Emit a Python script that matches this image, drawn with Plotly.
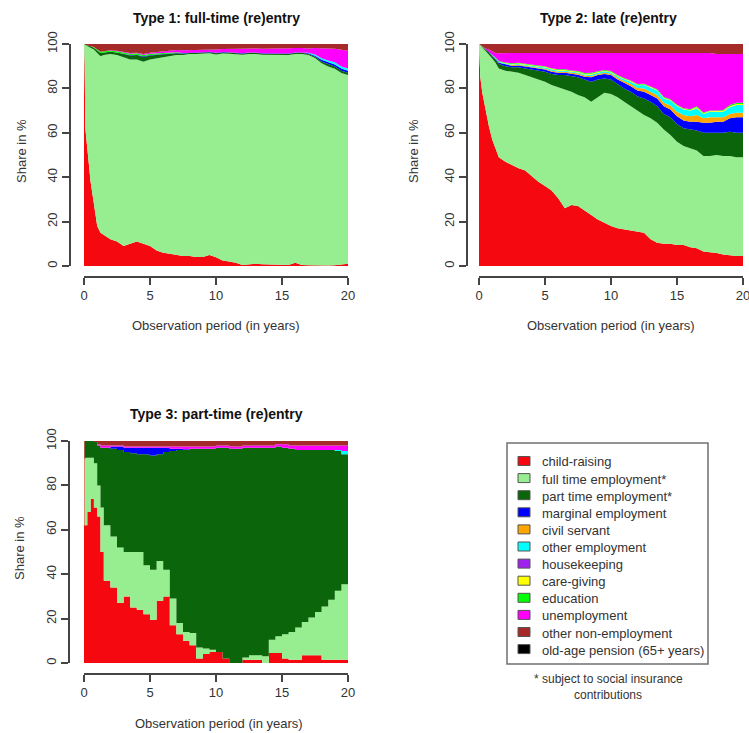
import plotly.graph_objects as go

W, H = 749, 733
FONT = "Liberation Sans, Arial, sans-serif"

years = [0, 0.05, 0.1, 0.25, 0.5, 0.75, 1, 1.25, 1.5, 2, 2.5, 3, 3.5, 4, 4.5, 5, 5.5, 6,
         6.5, 7, 7.5, 8, 8.5, 9, 9.5, 10, 10.5, 11, 11.5, 12, 12.5, 13, 13.5, 14, 14.5,
         15, 15.5, 16, 16.5, 17, 17.5, 18, 18.5, 19, 19.5, 20]

states = ["child-raising", "full time employment*", "part time employment*",
          "marginal employment", "civil servant", "other employment", "housekeeping",
          "care-giving", "education", "unemployment", "other non-employment",
          "old-age pension (65+ years)"]
colors = ["#F5080F", "#96EE90", "#0B650B", "#0000FF", "#FFA500", "#00FFFF", "#A020F0",
          "#FFFF00", "#00FF00", "#FF00FF", "#A52A2A", "#000000"]

Z = [0, 0, 0, 0, 0, 0, 0, 0, 0, 0, 0, 0, 0, 0, 0, 0, 0, 0, 0, 0, 0, 0, 0,
     0, 0, 0, 0, 0, 0, 0, 0, 0, 0, 0, 0, 0, 0, 0, 0, 0, 0, 0, 0, 0, 0, 0]

# ---- Type 1: full-time (re)entry ----
t1_child = [100, 91, 62, 52, 38, 28, 18, 15, 14, 12, 11, 9, 10, 11, 10, 9, 7, 6, 5.5, 5, 4.5, 4.5,
            4, 4, 5, 4, 2.5, 2, 1.5, 0.5, 0.8, 1, 0.8, 0.7, 0.5, 0.5, 0.5, 1.5, 0.5, 0.3, 0.2,
            0.2, 0.2, 0.3, 0.8, 1]
t1_full = [0, 9, 37.5, 47, 60.5, 69.5, 78, 79.5, 81, 83.5, 84, 85, 83, 82, 82, 84, 86.5, 88, 89, 90,
           90.5, 91, 91.5, 91.5, 91, 91.5, 93.5, 94, 94, 95, 95.2, 95, 94.7, 94.8, 95, 95, 95, 94.5,
           95.5, 95.2, 93.8, 91.3, 89.8, 88.7, 86.2, 85]
t1_part = [0, 0, 0, 0.3, 0.5, 0.8, 1, 1.5, 1.2, 1, 1.2, 1.5, 1.8, 2, 2.2, 1.8, 1.5, 1.2, 1, 0.8, 0.6,
           0.5, 0.5, 0.5, 0.5, 0.5, 0.5, 0.5, 0.5, 0.5, 0.5, 0.5, 0.5, 0.5, 0.5, 0.5, 0.5, 0.5, 0.5,
           0.5, 0.5, 0.8, 1, 1, 1, 1]
t1_marg = [0, 0, 0, 0, 0, 0, 0, 0, 0, 0, 0, 0, 0.2, 0.2, 0.3, 0.3, 0.3, 0.3, 0.2, 0.2, 0.2, 0.2, 0.2,
           0.2, 0.2, 0.2, 0.2, 0.2, 0.2, 0.2, 0.2, 0.2, 0.2, 0.2, 0.2, 0.2, 0.2, 0.2, 0.2, 0.3, 0.5,
           0.8, 1, 1, 1, 1]
t1_civil = Z
t1_other = [0, 0, 0, 0, 0, 0, 0, 0, 0, 0, 0, 0, 0, 0, 0, 0, 0, 0, 0, 0, 0, 0, 0, 0, 0, 0, 0, 0, 0,
            0, 0, 0, 0, 0, 0, 0, 0, 0, 0, 0.2, 0.5, 0.7, 0.8, 1, 1, 1]
t1_house = Z
t1_care = Z
t1_edu = [0, 0, 0, 0, 0.2, 0.3, 0.5, 0.5, 0.5, 0.5, 0.5, 0.5, 0.6, 0.6, 0.6, 0.5, 0.5, 0.5, 0.4, 0.3,
          0.2, 0, 0, 0, 0, 0, 0, 0, 0, 0, 0, 0, 0, 0, 0, 0, 0, 0, 0, 0, 0, 0, 0, 0, 0, 0]
t1_unemp = [0, 0, 0, 0, 0, 0, 0, 0, 0, 0.2, 0.3, 0.3, 0.3, 0.3, 0.4, 0.5, 0.6, 0.8, 1, 1, 1.2, 1, 1.2,
            1.3, 1, 1.5, 1.3, 1.5, 1.8, 2, 1.8, 1.8, 2, 2.2, 2.3, 2.3, 2.5, 2, 2, 2, 3, 4.5, 5.5, 6,
            7.5, 8]
t1_nonemp = [0, 0, 0.5, 0.7, 0.8, 1.4, 2.5, 3.5, 3.3, 2.8, 3, 3.7, 4.1, 3.9, 4.5, 3.9, 3.6, 3.2, 2.9,
             2.7, 2.8, 2.8, 2.6, 2.5, 2.5, 2.5, 2.3, 2.2, 2.3, 2.2, 2, 2, 2.2, 2, 2, 2, 1.8,
             1.8, 1.8, 2, 1.8, 1.9, 1.9, 2.2, 2.6, 3]
t1_pension = Z

# ---- Type 2: late (re)entry ----
t2_child = [100, 92, 85, 78, 70, 63, 57, 53, 49, 47, 45.5, 44, 43, 40.5, 38, 36, 34, 30.5, 26, 27.5,
            27, 25, 23, 21, 19.5, 18, 17, 16.5, 16, 15.5, 15, 12, 10.5, 10, 10, 9.5, 9.5, 8.5, 8,
            6.5, 6.3, 5.8, 5.2, 4.8, 4.5, 4.5]
t2_full = [0, 8, 14.5, 20.5, 27, 32.5, 36.5, 38.5, 40, 41, 42, 43, 43, 44.5, 46, 47, 47.5, 50, 53.5,
           51, 50, 51, 51, 55, 58.5, 59.5, 59, 57.5, 56, 54.5, 53, 54.5, 54, 51.5, 49, 46.5, 44.5,
           44.5, 44, 43, 43.2, 44.2, 44.3, 44.7, 44.5, 44.5]
t2_part = [0, 0, 0, 0.3, 0.5, 0.8, 1, 1.5, 2, 2, 2, 2.5, 3, 3.5, 4, 4.5, 5, 5.5, 6.5, 7, 8, 8, 9, 8,
           6.5, 6.5, 6, 6, 6.5, 6.5, 7.5, 7.5, 7.5, 7, 8, 8, 8, 8.5, 9, 10.5, 10.5, 10, 10.5, 11,
           11, 11]
t2_marg = [0, 0, 0, 0, 0.2, 0.2, 0.3, 0.4, 0.5, 0.7, 0.7, 0.8, 0.8, 0.8, 0.8, 1, 1, 1, 1, 1, 1.2, 1.3,
           2, 2, 2, 2, 2, 2.5, 2.5, 2.5, 3, 3, 3.5, 3.5, 3.5, 3.5, 3.5, 3.5, 4, 4.5, 4.5, 5, 5, 6,
           7, 7]
t2_civil = [0, 0, 0, 0, 0, 0, 0, 0, 0.2, 0.2, 0.3, 0.3, 0.3, 0.4, 0.4, 0.4, 0.5, 0.5, 0.5, 0.5, 0.5,
            0.5, 0.5, 0.5, 0.6, 0.6, 0.7, 0.8, 1, 1.2, 1.5, 1.5, 1.5, 1.5, 1.8, 2, 2.5, 2.5, 3, 2,
            2.5, 2, 2, 2, 2, 2]
t2_other = [0, 0, 0, 0, 0, 0.2, 0.2, 0.3, 0.3, 0.3, 0.3, 0.4, 0.4, 0.4, 0.5, 0.5, 0.5, 0.5, 0.5, 0.5,
            0.5, 0.5, 0.7, 0.6, 0.6, 0.6, 0.7, 0.8, 1, 1.2, 1.5, 1.8, 2, 2, 2.2, 2.5, 2.5, 2.5, 3,
            2, 2.5, 2.5, 2.5, 3, 3.5, 3.5]
t2_house = Z
t2_care = [0, 0, 0, 0, 0, 0, 0, 0, 0, 0.2, 0.2, 0.3, 0.3, 0.3, 0.3, 0.3, 0.3, 0.3, 0.3, 0.3, 0.3, 0.3,
           0.4, 0.3, 0.3, 0.3, 0.3, 0.3, 0.3, 0.3, 0.3, 0.3, 0.3, 0.3, 0.3, 0.3, 0.3, 0.3, 0.5, 0.3,
           0.3, 0.3, 0.4, 0.5, 0.5, 0.5]
t2_edu = [0, 0, 0, 0, 0, 0, 0.2, 0.2, 0.3, 0.3, 0.3, 0.3, 0.3, 0.3, 0.3, 0.3, 0.3, 0.3, 0.3, 0.3, 0.3,
          0.3, 0.4, 0.3, 0.3, 0.3, 0.3, 0.3, 0.3, 0.3, 0.3, 0.3, 0.3, 0.3, 0.3, 0.3, 0.3, 0.3, 0.5,
          0.3, 0.3, 0.3, 0.4, 0.5, 0.5, 0.5]
t2_unemp = [0, 0, 0, 0, 0.3, 0.8, 1.3, 2, 3.5, 4.3, 4.7, 4.4, 4.9, 5.3, 5.7, 6, 6.9, 7.4, 7.4, 7.9,
            8.2, 9.1, 9, 8.3, 7.7, 8.2, 10, 11.3, 12.4, 14, 13.9, 15.1, 16.4, 19.9, 20.9, 23.4,
            24.9, 25.4, 24, 26.9, 25.9, 25.4, 25.2, 23, 22, 22]
t2_nonemp = [0, 0, 0.5, 1.2, 2, 2.5, 3.5, 4.1, 4.2, 4, 4, 4, 4, 4, 4, 4, 4, 4, 4, 4, 4, 4, 4, 4, 4, 4,
             4, 4, 4, 4, 4, 4, 4, 4, 4, 4, 4, 4, 4, 4, 4, 4.5, 4.5, 4.5, 4.5, 4.5]
t2_pension = Z

# ---- Type 3: part-time (re)entry ----
t3_child = [100, 62, 62, 68, 74, 70, 66, 50, 37, 34, 27, 30, 25, 24, 22, 19.5, 28, 30, 17, 13, 10, 8,
            2, 4, 5, 5, 2, 0, 0, 1.5, 1.5, 1.5, 0, 4.5, 4.5, 2, 1.5, 1.5, 3.5, 3.5, 3.5, 1.5, 1.5,
            1.5, 1.5, 1.5]
t3_full = [0, 30, 30.5, 24.5, 18.5, 20, 14, 20, 25, 23, 25, 20, 25, 26, 22, 22.5, 18, 12, 12, 5, 4,
           5.5, 5, 2.5, 1, 0, 0, 0, 0, 1, 2, 2, 3, 6, 7.5, 11, 12.5, 14.5, 15, 17, 19.5, 24, 27,
           31, 34, 36]
t3_part = [0, 8, 7.5, 7.5, 7.5, 9.5, 18, 27, 35, 39.5, 44, 45, 44.5, 44, 50, 51.5, 48, 53, 66.5, 78,
           82, 83, 89.5, 90, 90.5, 92, 95, 96.5, 96.5, 94.5, 93.5, 93.5, 94, 86.5, 85.5, 84, 82.5,
           80, 77.5, 75.5, 73, 70.5, 67.5, 63, 58.5, 55]
t3_marg = [0, 0, 0, 0, 0, 0, 0, 0, 0, 1, 1.5, 2, 2.5, 3, 3, 3.5, 3, 2, 1, 0.5, 0.3, 0, 0, 0, 0, 0, 0,
           0, 0, 0, 0, 0, 0, 0, 0, 0, 0, 0, 0, 0, 0, 0, 0, 0, 0, 0]
t3_civil = Z
t3_other = [0, 0, 0, 0, 0, 0, 0, 0, 0, 0, 0, 0, 0, 0, 0, 0, 0, 0, 0, 0, 0, 0, 0, 0, 0, 0, 0, 0, 0, 0,
            0, 0, 0, 0, 0, 0, 0, 0, 0, 0, 0, 0, 0, 0.5, 1.5, 3]
t3_house = Z
t3_care = Z
t3_edu = Z
t3_unemp = [0, 0, 0, 0, 0, 0, 0.5, 1, 1, 0.5, 0.5, 0.5, 0.5, 0.5, 0.5, 0.5, 0.5, 0.5, 1, 1, 1.2, 1, 1,
            1, 1, 1, 1, 1, 1, 1, 1, 1, 1, 1, 1, 1.5, 1.5, 2, 2, 2, 2, 2, 2, 2, 2.5, 3]
t3_nonemp = [0, 0, 0, 0, 0, 0.5, 1.5, 2, 2, 2, 2, 2.5, 2.5, 2.5, 2.5, 2.5, 2.5, 2.5, 2.5, 2.5, 2.5,
             2.5, 2.5, 2.5, 2.5, 2, 2, 2.5, 2.5, 2, 2, 2, 2, 2, 1.5, 1.5, 2, 2, 2, 2, 2, 2, 2, 2, 2,
             1.5]
t3_pension = Z

tick_x = [0, 5, 10, 15, 20]
tick_y = [0, 20, 40, 60, 80, 100]

panels = [
    dict(title="Type 1: full-time (re)entry",
         data=[t1_child, t1_full, t1_part, t1_marg, t1_civil, t1_other, t1_house, t1_care,
               t1_edu, t1_unemp, t1_nonemp, t1_pension],
         area=(84, 348, 44, 266), yline=70, xline=277, title_xy=(217, 18),
         ytitle_xy=(21, 151), xtitle_xy=(216, 326), shape="linear"),
    dict(title="Type 2: late (re)entry",
         data=[t2_child, t2_full, t2_part, t2_marg, t2_civil, t2_other, t2_house, t2_care,
               t2_edu, t2_unemp, t2_nonemp, t2_pension],
         area=(479, 743, 44, 266), yline=467, xline=277, title_xy=(608, 18),
         ytitle_xy=(413, 151), xtitle_xy=(611, 326), shape="linear"),
    dict(title="Type 3: part-time (re)entry",
         data=[t3_child, t3_full, t3_part, t3_marg, t3_civil, t3_other, t3_house, t3_care,
               t3_edu, t3_unemp, t3_nonemp, t3_pension],
         area=(84, 348, 441, 663), yline=69, xline=674, title_xy=(217, 414),
         ytitle_xy=(19, 548), xtitle_xy=(219, 723), shape="hv"),
]


def fx(p):
    return p / W


def fy(p):
    return 1 - p / H


fig = go.Figure()
annotations = []
shapes = []
AX = "#444444"
TX = "#333333"

for i, pnl in enumerate(panels):
    n = "" if i == 0 else str(i + 1)
    for name, col, vals in zip(states, colors, pnl["data"]):
        fig.add_trace(go.Scatter(
            x=years, y=vals, xaxis="x" + n, yaxis="y" + n, name=name, mode="lines",
            line=dict(width=0, shape=pnl["shape"]), fillcolor=col, stackgroup="g" + n,
            groupnorm="percent", hoverinfo="skip", showlegend=False))
    x0, x1, y0, y1 = pnl["area"]
    common = dict(showgrid=False, zeroline=False, showline=True, linecolor=AX, linewidth=1.5,
                  ticks="outside", ticklen=7, tickwidth=1.5, tickcolor=AX, automargin=False,
                  ticklabeloverflow="allow",
                  tickfont=dict(family=FONT, size=13, color=TX), anchor="free")
    fig.update_layout(**{
        "xaxis" + n: dict(domain=[fx(x0), fx(x1)], range=[0, 20], tickvals=tick_x,
                          position=fy(pnl["xline"]), **common),
        "yaxis" + n: dict(domain=[fy(y1), fy(y0)], range=[0, 100], tickvals=tick_y,
                          tickangle=-90, position=fx(pnl["yline"]), **common),
    })
    tx, ty = pnl["title_xy"]
    annotations.append(dict(x=fx(tx), y=fy(ty), xref="paper", yref="paper", text="<b>%s</b>" % pnl["title"],
                            showarrow=False, font=dict(family=FONT, size=14, color="#111111"),
                            xanchor="center", yanchor="middle"))
    ax_, ay_ = pnl["ytitle_xy"]
    annotations.append(dict(x=fx(ax_), y=fy(ay_), xref="paper", yref="paper", text="Share in %",
                            textangle=-90, showarrow=False, font=dict(family=FONT, size=13, color=TX),
                            xanchor="center", yanchor="middle"))
    bx, by = pnl["xtitle_xy"]
    annotations.append(dict(x=fx(bx), y=fy(by), xref="paper", yref="paper",
                            text="Observation period (in years)", showarrow=False,
                            font=dict(family=FONT, size=13, color=TX),
                            xanchor="center", yanchor="middle"))

# legend box
shapes.append(dict(type="rect", xref="paper", yref="paper", x0=fx(507), x1=fx(708),
                   y0=fy(664), y1=fy(443), line=dict(color="#707070", width=1.5),
                   fillcolor="rgba(0,0,0,0)"))
for k, (name, col) in enumerate(zip(states, colors)):
    yc = 461 + k * 17.1
    shapes.append(dict(type="rect", xref="paper", yref="paper", x0=fx(518), x1=fx(530),
                       y0=fy(yc + 4.5), y1=fy(yc - 4.5), line=dict(color="#555555", width=1),
                       fillcolor=col))
    annotations.append(dict(x=fx(540), y=fy(yc + 1), xref="paper", yref="paper", text=name,
                            showarrow=False, xanchor="left", yanchor="middle",
                            font=dict(family=FONT, size=13, color=TX)))
annotations.append(dict(x=fx(608), y=fy(679), xref="paper", yref="paper",
                        text="* subject to social insurance", showarrow=False,
                        xanchor="center", yanchor="middle",
                        font=dict(family=FONT, size=12, color=TX)))
annotations.append(dict(x=fx(608), y=fy(695), xref="paper", yref="paper",
                        text="contributions", showarrow=False,
                        xanchor="center", yanchor="middle",
                        font=dict(family=FONT, size=12, color=TX)))

fig.update_layout(width=W, height=H, margin=dict(l=0, r=0, t=0, b=0, pad=0, autoexpand=False),
                  paper_bgcolor="white", plot_bgcolor="white",
                  annotations=annotations, shapes=shapes, showlegend=False)

fig.write_html("out.html", config={"displayModeBar": False},
               post_script="document.body.style.margin='0';document.body.style.overflow='hidden';")
